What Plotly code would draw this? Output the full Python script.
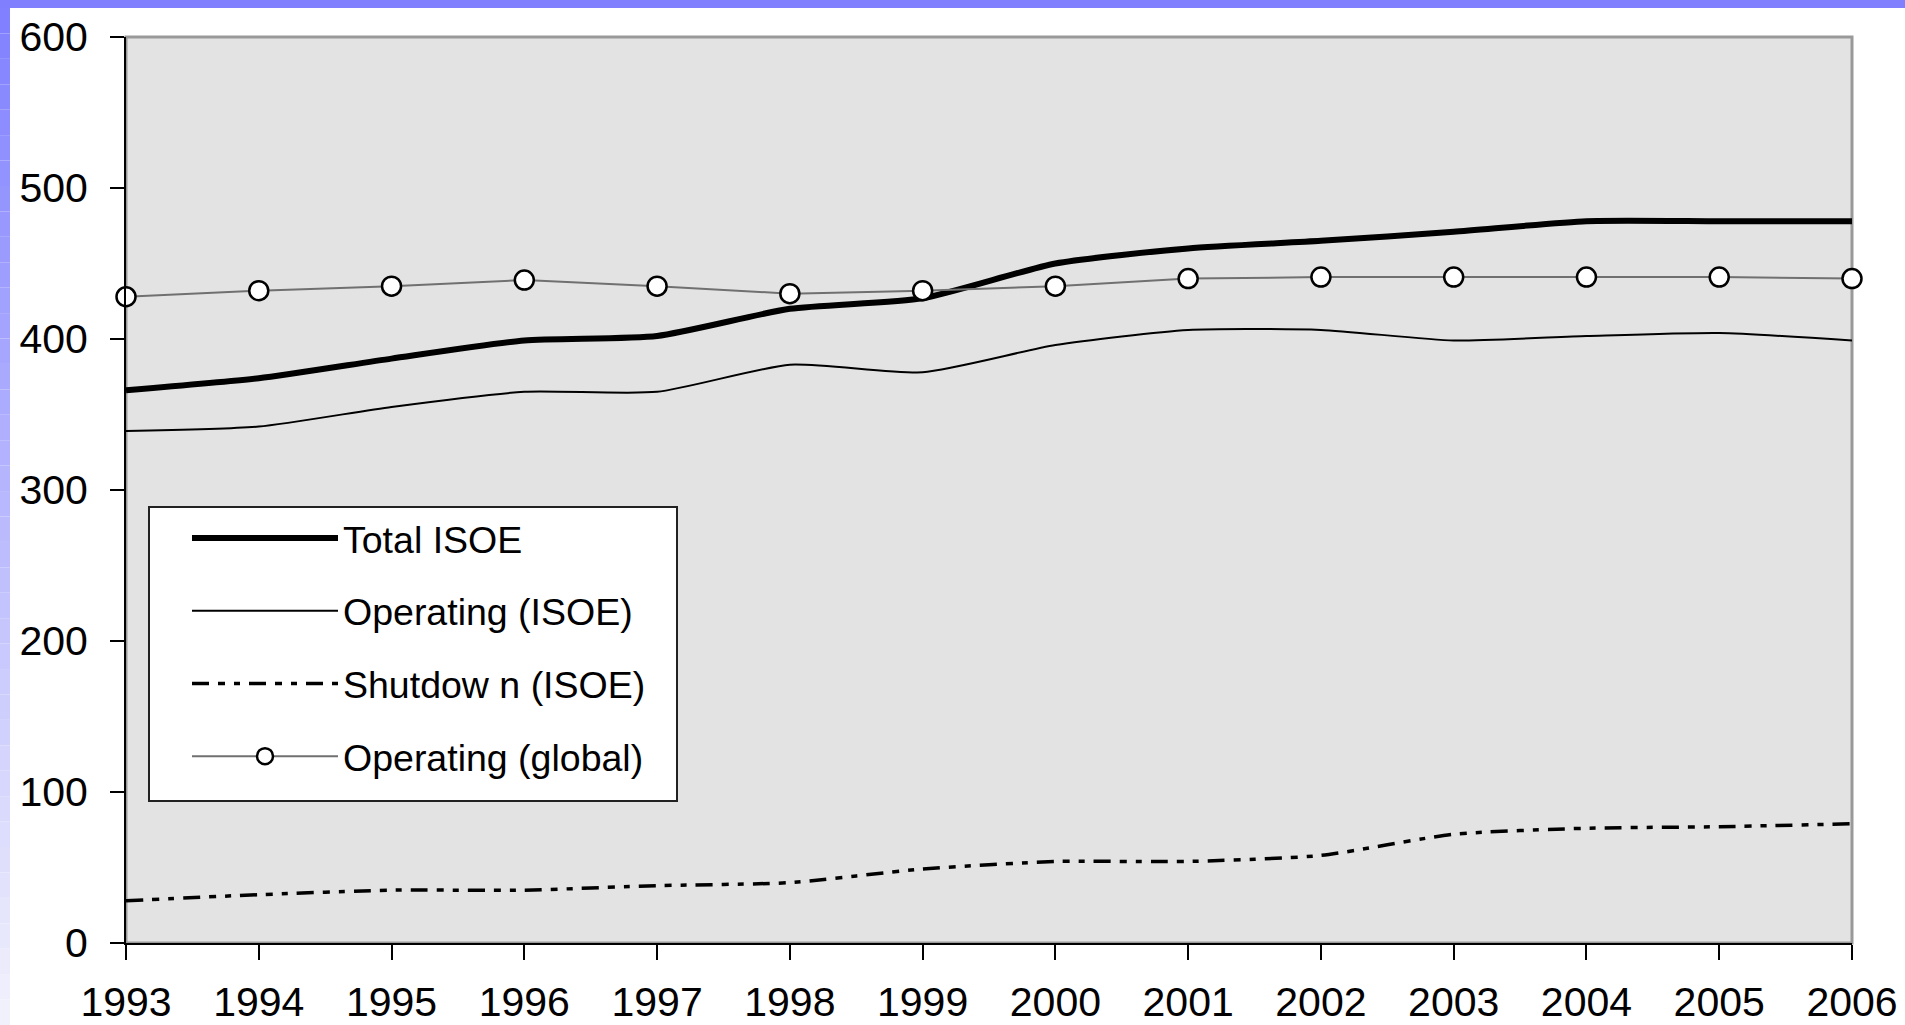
import plotly.graph_objects as go

years = list(range(1993, 2007))
total_isoe = [366, 374, 387, 399, 402, 420, 427, 450, 460, 465, 471, 478, 478, 478]
operating_isoe = [339, 342, 355, 365, 365, 383, 378, 396, 406, 406, 399, 402, 404, 399]
shutdown_isoe = [28, 32, 35, 35, 38, 40, 49, 54, 54, 58, 72, 76, 77, 79]
operating_global = [428, 432, 435, 439, 435, 430, 432, 435, 440, 441, 441, 441, 441, 440]
y_ticks = [0, 100, 200, 300, 400, 500, 600]

W, H = 1905, 1025
L, R, T, B = 126, 53, 37, 82
pw, ph = W - L - R, H - T - B

def px2x(px):
    return (px - L) / pw

def px2y(py):
    return (H - B - py) / ph

fig = go.Figure()
fig.add_trace(go.Scatter(x=years, y=total_isoe, name="Total ISOE", mode="lines",
                         line=dict(color="black", width=6, shape="spline", smoothing=0.6),
                         legendgroup="a"))
fig.add_trace(go.Scatter(x=years, y=operating_isoe, name="Operating (ISOE)", mode="lines",
                         line=dict(color="black", width=2, shape="spline", smoothing=0.6),
                         legendgroup="b"))
fig.add_trace(go.Scatter(x=years, y=shutdown_isoe, name="Shutdow n (ISOE)", mode="lines",
                         line=dict(color="black", width=3.5, shape="spline", smoothing=0.6,
                                   dash="17px,9px,7px,9px,6px,9px"),
                         legendgroup="c"))
fig.add_trace(go.Scatter(x=years, y=operating_global, name="Operating (global)", mode="lines+markers",
                         line=dict(color="#707070", width=2),
                         marker=dict(symbol="circle", size=19, color="white",
                                     line=dict(color="black", width=2.5)),
                         cliponaxis=False, legendgroup="d"))

shapes = []
# plot frame (gray top/right)
shapes.append(dict(type="rect", xref="paper", yref="paper", x0=0, x1=1, y0=0, y1=1,
                   line=dict(color="#999999", width=3), layer="below"))
# legend box
shapes.append(dict(type="rect", xref="paper", yref="paper", x0=px2x(149), x1=px2x(677),
                   y0=px2y(801), y1=px2y(507), fillcolor="white",
                   line=dict(color="#222222", width=2), layer="above"))
# top blue band
shapes.append(dict(type="rect", xref="paper", yref="paper", x0=px2x(0), x1=px2x(W),
                   y0=px2y(8), y1=px2y(0), line=dict(width=0), fillcolor="#8080ff"))
# left gradient band
n = 40
c0 = (128, 128, 255)
c1 = (242, 242, 252)
for i in range(n):
    y0p = 8 + (H - 8) * i / n
    y1p = 8 + (H - 8) * (i + 1) / n
    t = (i + 0.5) / n
    c = tuple(round(c0[k] + (c1[k] - c0[k]) * t) for k in range(3))
    shapes.append(dict(type="rect", xref="paper", yref="paper", x0=px2x(0), x1=px2x(10),
                       y0=px2y(y1p), y1=px2y(y0p), line=dict(width=0),
                       fillcolor="rgb(%d,%d,%d)" % c))

fig.update_layout(
    width=W, height=H,
    margin=dict(l=L, r=R, t=T, b=B, autoexpand=False),
    paper_bgcolor="white",
    plot_bgcolor="#e3e3e3",
    font=dict(family="Liberation Sans, Arial, sans-serif", color="black", size=41),
    shapes=shapes,
    showlegend=True,
    legend=dict(x=px2x(187), y=px2y(507), xanchor="left", yanchor="top",
                bgcolor="rgba(0,0,0,0)", borderwidth=0,
                font=dict(size=37.5, family="Liberation Sans, Arial, sans-serif"),
                itemwidth=146, tracegroupgap=21, traceorder="grouped"),
    xaxis=dict(range=[1993, 2006], tickmode="array", tickvals=years,
               ticktext=[str(y) for y in years], showgrid=False, zeroline=False,
               showline=True, linecolor="black", linewidth=2,
               ticks="outside", ticklen=15, tickwidth=2, tickcolor="black",
               tickfont=dict(size=41), ticklabelstandoff=7),
    yaxis=dict(range=[0, 600], tickmode="array", tickvals=y_ticks,
               showgrid=False, zeroline=False,
               showline=True, linecolor="black", linewidth=2,
               ticks="outside", ticklen=14, tickwidth=2, tickcolor="black",
               tickfont=dict(size=41), ticklabelstandoff=14),
)

fig.write_html("out.html", config={"displayModeBar": False},
               post_script="document.body.style.margin='0';document.body.style.overflow='hidden';")
